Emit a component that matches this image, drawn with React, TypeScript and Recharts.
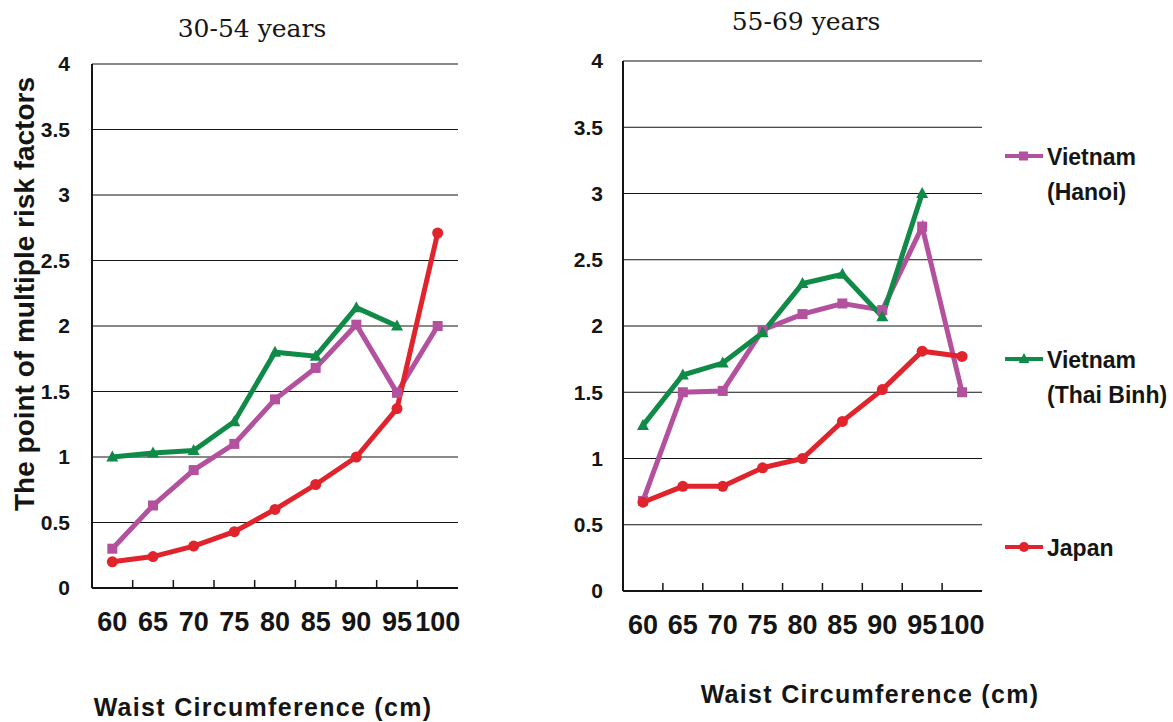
import React from "react";
import { CartesianGrid, Legend, Line, LineChart, XAxis, YAxis } from "recharts";

const waist = ["60", "65", "70", "75", "80", "85", "90", "95", "100"];
const yTicks = [0, 0.5, 1, 1.5, 2, 2.5, 3, 3.5, 4];

// 30-54 years
const hanoiYoung = [0.3, 0.63, 0.9, 1.1, 1.44, 1.68, 2.01, 1.49, 2.0];
const thaiBinhYoung = [1.0, 1.03, 1.05, 1.27, 1.8, 1.77, 2.14, 2.0, null];
const japanYoung = [0.2, 0.24, 0.32, 0.43, 0.6, 0.79, 1.0, 1.37, 2.71];

// 55-69 years
const hanoiOld = [0.68, 1.5, 1.51, 1.97, 2.09, 2.17, 2.12, 2.75, 1.5];
const thaiBinhOld = [1.25, 1.63, 1.72, 1.95, 2.32, 2.39, 2.07, 3.0, null];
const japanOld = [0.67, 0.79, 0.79, 0.93, 1.0, 1.28, 1.52, 1.81, 1.77];

const PURPLE = "#b3519f";
const GREEN = "#0f8a47";
const RED = "#e1232c";
const INK = "#151515";
const SANS = "'Liberation Sans', Arial, sans-serif";
const Y_AXIS_W = 40;
const X_AXIS_H = 60;

const toRows = (h: (number | null)[], t: (number | null)[], j: (number | null)[]) =>
  waist.map((w, i) => ({ waist: w, hanoi: h[i], thaiBinh: t[i], japan: j[i] }));

const youngRows = toRows(hanoiYoung, thaiBinhYoung, japanYoung);
const oldRows = toRows(hanoiOld, thaiBinhOld, japanOld);

const SquareDot = (props: any) => {
  const { cx, cy, index } = props;
  if (cx == null || cy == null) return <g key={index} />;
  return <rect key={index} x={cx - 5} y={cy - 5} width={10} height={10} fill={PURPLE} />;
};

const TriangleDot = (props: any) => {
  const { cx, cy, index } = props;
  if (cx == null || cy == null) return <g key={index} />;
  return (
    <polygon
      key={index}
      points={`${cx},${cy - 6.5} ${cx - 6},${cy + 4.5} ${cx + 6},${cy + 4.5}`}
      fill={GREEN}
    />
  );
};

const CircleDot = (props: any) => {
  const { cx, cy, index } = props;
  if (cx == null || cy == null) return <g key={index} />;
  return <circle key={index} cx={cx} cy={cy} r={5.5} fill={RED} />;
};

// label at the category centre, small tick mark at the boundary on its left
const WaistTick = (props: any) => {
  const { x, y, payload, band, axisY } = props;
  const i = waist.indexOf(String(payload.value));
  const bx = Number(x) - Number(band) / 2;
  const top = Number(axisY);
  return (
    <g>
      {i > 0 && <path d={`M${bx},${top - 8}L${bx},${top}`} stroke={INK} strokeWidth={1.5} fill="none" />}
      <text
        x={x}
        y={y}
        dy="0.71em"
        textAnchor="middle"
        fontSize={27}
        fontWeight="bold"
        fill={INK}
        fontFamily={SANS}
      >
        {payload.value}
      </text>
    </g>
  );
};

const legendRows = [
  { name: "Vietnam", sub: "(Hanoi)", color: PURPLE, dot: "square", top: 0 },
  { name: "Vietnam", sub: "(Thai Binh)", color: GREEN, dot: "triangle", top: 203 },
  { name: "Japan", sub: "", color: RED, dot: "circle", top: 391 },
];

const LegendMarker = ({ color, dot }: { color: string; dot: string }) => (
  <svg width={40} height={14} style={{ position: "absolute", left: 0, top: 9 }}>
    <line x1={0} x2={38} y1={7} y2={7} stroke={color} strokeWidth={4} />
    {dot === "square" && <rect x={14} y={2.5} width={9} height={9} fill={color} />}
    {dot === "triangle" && <polygon points="19,1 13.5,11 24.5,11" fill={color} />}
    {dot === "circle" && <circle cx={19} cy={7} r={5} fill={color} />}
  </svg>
);

const renderLegend = () => (
  <div style={{ position: "relative", width: 170, height: 430, fontFamily: SANS }}>
    {legendRows.map((r) => (
      <div key={r.sub || r.name} style={{ position: "absolute", left: 0, top: r.top }}>
        <LegendMarker color={r.color} dot={r.dot} />
        <div
          style={{
            marginLeft: 42,
            fontSize: 23,
            fontWeight: "bold",
            lineHeight: "35px",
            color: INK,
            whiteSpace: "nowrap",
          }}
        >
          {r.name}
          {r.sub && <br />}
          {r.sub}
        </div>
      </div>
    ))}
  </div>
);

type PanelProps = {
  rows: any[];
  width: number;
  margin: { top: number; right: number; bottom: number; left: number };
  yTickMargin: number;
  legend?: boolean;
};

const Panel = ({ rows, width, margin, yTickMargin, legend }: PanelProps) => {
  const band = (width - margin.left - margin.right - Y_AXIS_W) / rows.length;
  const axisY = 722 - margin.bottom - X_AXIS_H;
  return (
    <LineChart width={width} height={722} data={rows} margin={margin} style={{ fontFamily: SANS }}>
      <CartesianGrid vertical={false} stroke={INK} strokeWidth={1.2} />
      <XAxis
        dataKey="waist"
        scale="band"
        interval={0}
        height={X_AXIS_H}
        tickSize={6}
        tickMargin={18}
        tickLine={false}
        axisLine={{ stroke: INK, strokeWidth: 2 }}
        tick={(p: any) => <WaistTick {...p} band={band} axisY={axisY} />}
      />
      <YAxis
        domain={[0, 4]}
        ticks={yTicks}
        interval={0}
        width={Y_AXIS_W}
        tickLine={false}
        tickMargin={yTickMargin}
        axisLine={{ stroke: INK, strokeWidth: 2 }}
        tick={{ fontSize: 21, fontWeight: "bold", fill: INK }}
      />
      <YAxis
        yAxisId="frame"
        orientation="right"
        domain={[0, 4]}
        width={0}
        tick={false}
        tickLine={false}
        axisLine={{ stroke: INK, strokeWidth: 2 }}
      />
      <Line
        dataKey="hanoi"
        name="Vietnam (Hanoi)"
        stroke={PURPLE}
        strokeWidth={5}
        dot={SquareDot}
        activeDot={false}
        isAnimationActive={false}
      />
      <Line
        dataKey="thaiBinh"
        name="Vietnam (Thai Binh)"
        stroke={GREEN}
        strokeWidth={5}
        dot={TriangleDot}
        activeDot={false}
        isAnimationActive={false}
      />
      <Line
        dataKey="japan"
        name="Japan"
        stroke={RED}
        strokeWidth={5}
        dot={CircleDot}
        activeDot={false}
        isAnimationActive={false}
      />
      {legend && (
        <Legend
          layout="horizontal"
          verticalAlign="middle"
          align="center"
          content={renderLegend}
          wrapperStyle={{ left: 465, top: 140, width: 170, height: 430 }}
        />
      )}
    </LineChart>
  );
};

const abs = (left: number, top: number): React.CSSProperties => ({
  position: "absolute",
  left,
  top,
  transform: "translate(-50%, -50%)",
  whiteSpace: "nowrap",
  color: INK,
});

const App = () => {
  return (
    <div style={{ position: "absolute", left: 0, top: 0, width: 1173, height: 722, background: "#fff" }}>
      <div style={{ position: "absolute", left: 0, top: 0 }}>
        <Panel
          rows={youngRows}
          width={480}
          margin={{ top: 64, right: 22, bottom: 74, left: 52 }}
          yTickMargin={16}
        />
      </div>
      <div style={{ position: "absolute", left: 540, top: 0 }}>
        <Panel
          rows={oldRows}
          width={633}
          margin={{ top: 61, right: 191, bottom: 71, left: 43 }}
          yTickMargin={14}
          legend
        />
      </div>

      <div style={{ ...abs(252, 28), fontFamily: "'DejaVu Serif', serif", fontSize: 25 }}>30-54 years</div>
      <div style={{ ...abs(806, 21), fontFamily: "'DejaVu Serif', serif", fontSize: 25 }}>55-69 years</div>

      <div
        style={{
          ...abs(25, 294),
          transform: "translate(-50%, -50%) rotate(-90deg)",
          fontFamily: SANS,
          fontSize: 28,
          fontWeight: "bold",
        }}
      >
        The point of multiple risk factors
      </div>

      <div style={{ ...abs(263, 707), fontFamily: SANS, fontSize: 25, fontWeight: "bold", letterSpacing: 1.3 }}>
        Waist Circumference (cm)
      </div>
      <div style={{ ...abs(870, 694), fontFamily: SANS, fontSize: 25, fontWeight: "bold", letterSpacing: 1.3 }}>
        Waist Circumference (cm)
      </div>
    </div>
  );
};

export default App;
